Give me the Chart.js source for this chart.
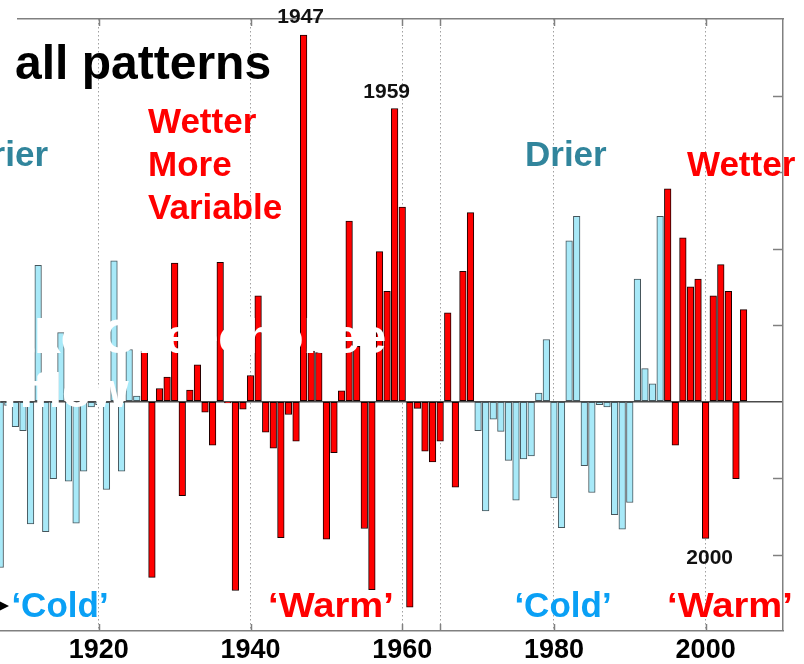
<!DOCTYPE html>
<html>
<head>
<meta charset="utf-8">
<script src="https://cdn.jsdelivr.net/npm/chart.js@4.4.1/dist/chart.umd.min.js"></script>
<style>
  html, body { margin: 0; padding: 0; background: #ffffff; }
  #wrap { width: 804px; height: 664px; position: relative; overflow: hidden; }
</style>
</head>
<body>
<div id="wrap"><canvas id="c" width="804" height="664"></canvas></div>
<script>
// Annual inflow anomaly, one value per year
const years = [
  1907, 1908, 1909, 1910, 1911, 1912, 1913, 1914, 1915, 1916,
  1917, 1918, 1919, 1920, 1921, 1922, 1923, 1924, 1925, 1926,
  1927, 1928, 1929, 1930, 1931, 1932, 1933, 1934, 1935, 1936,
  1937, 1938, 1939, 1940, 1941, 1942, 1943, 1944, 1945, 1946,
  1947, 1948, 1949, 1950, 1951, 1952, 1953, 1954, 1955, 1956,
  1957, 1958, 1959, 1960, 1961, 1962, 1963, 1964, 1965, 1966,
  1967, 1968, 1969, 1970, 1971, 1972, 1973, 1974, 1975, 1976,
  1977, 1978, 1979, 1980, 1981, 1982, 1983, 1984, 1985, 1986,
  1987, 1988, 1989, 1990, 1991, 1992, 1993, 1994, 1995, 1996,
  1997, 1998, 1999, 2000, 2001, 2002, 2003, 2004, 2005
];
const inflow = [
  -2.17, -0.05, -0.33, -0.38, -1.60,  1.78, -1.70, -1.01,  0.90, -1.04,
  -1.59, -0.91, -0.07, -0.04, -1.15,  1.84, -0.91,  0.68,  0.07,  0.66,
  -2.30,  0.17,  0.32,  1.81, -1.23,  0.15,  0.48, -0.14, -0.57,  1.82,
  -0.02, -2.47, -0.10,  0.34,  1.38, -0.40, -0.61, -1.78, -0.17, -0.52,
   4.79,  0.66,  0.64, -1.80, -0.67,  0.14,  2.36,  0.72, -1.66, -2.46,
   1.96,  1.44,  3.83,  2.54, -2.69, -0.09, -0.65, -0.79, -0.52,  1.16,
  -1.12,  1.70,  2.47, -0.38, -1.43, -0.23, -0.39, -0.77, -1.29, -0.75,
  -0.71,  0.11,  0.81, -1.26, -1.65,  2.10,  2.42, -0.84, -1.19, -0.04,
  -0.07, -1.48, -1.67, -1.32,  1.60,  0.43,  0.23,  2.42,  2.78, -0.57,
   2.14,  1.50,  1.60, -1.79,  1.38,  1.79,  1.44, -1.01,  1.20
];
// 'Warm' phase year spans; every other year belongs to a 'Cold' phase
const warmPhases = [[1926, 1969], [1995, 2005]];
const tickYears = [1920, 1940, 1960, 1965, 1980, 2000];
const labelledTickYears = [1920, 1940, 1960, 1980, 2000];
const markedYears = [1947, 1959, 2000];

const FONT = '"Liberation Sans", Arial, Helvetica, sans-serif';
const COLD_FILL = '#a8e9f8';
const COLD_EDGE = '#46565c';
const WARM_FILL = '#ff0000';
const WARM_EDGE = '#1a0000';
const AXIS_GREY = '#808080';

const isWarm = yr => warmPhases.some(([a, b]) => yr >= a && yr <= b);

const points = years.map((yr, i) => ({ x: yr, y: inflow[i] }));

// offsets of the year call-outs relative to their bar ends
const markOffsets = { 1947: { dx: -3, gap: 12 }, 1959: { dx: -8, gap: 11 }, 2000: { dx: 4, gap: 9 } };

const decor = {
  id: 'decor',
  afterDatasetsDraw(chart) {
    const ctx = chart.ctx;
    ctx.save();
    ctx.fillStyle = '#ffffff';
    ctx.font = `bold 48px ${FONT}`;
    ctx.textBaseline = 'alphabetic';
    ctx.textAlign = 'left';
    ctx.fillText('Lake Okeechobee', -22, 353);
    ctx.fillText('Inflow', -10, 407);
    ctx.restore();
  },
  afterDraw(chart) {
    const { ctx, chartArea: a, scales: { x, y } } = chart;
    const seg = (x1, y1, x2, y2) => { ctx.beginPath(); ctx.moveTo(x1, y1); ctx.lineTo(x2, y2); ctx.stroke(); };
    // wide phase name, centred at cx
    const wideText = (txt, cx, by, stretch) => {
      ctx.save();
      ctx.translate(cx, by);
      ctx.scale(stretch, 1);
      ctx.fillText(txt, 0, 0);
      ctx.restore();
    };
    ctx.save();

    // inward tick marks on the frame
    ctx.strokeStyle = AXIS_GREY;
    ctx.lineWidth = 1.5;
    tickYears.forEach(v => {
      const px = Math.round(x.getPixelForValue(v)) + 0.5;
      seg(px, a.top, px, a.top + 7);
      seg(px, a.bottom, px, a.bottom - 7);
    });
    y.ticks.forEach(t => {
      if (t.value === 0 || t.value === y.min || t.value === y.max) return;
      const py = Math.round(y.getPixelForValue(t.value)) + 0.5;
      seg(a.right, py, a.right - 10, py);
    });

    // year call-outs on the extreme bars
    ctx.fillStyle = '#111111';
    ctx.font = `bold 21px ${FONT}`;
    ctx.textAlign = 'center';
    markedYears.forEach(yr => {
      const v = inflow[years.indexOf(yr)];
      const o = markOffsets[yr];
      const px = x.getPixelForValue(yr) + o.dx;
      const py = y.getPixelForValue(v);
      if (v >= 0) { ctx.textBaseline = 'alphabetic'; ctx.fillText(String(yr), px, py - o.gap); }
      else { ctx.textBaseline = 'top'; ctx.fillText(String(yr), px, py + o.gap); }
    });

    // headline
    ctx.textAlign = 'left';
    ctx.textBaseline = 'alphabetic';
    ctx.fillStyle = '#000000';
    ctx.font = `bold 48px ${FONT}`;
    ctx.fillText('all patterns', 15, 79);

    // regime descriptions
    ctx.font = `bold 35px ${FONT}`;
    ctx.fillStyle = '#31859c';
    ctx.textAlign = 'right';
    ctx.fillText('Drier', 48, 166);
    ctx.textAlign = 'left';
    ctx.fillText('Drier', 525, 166);
    ctx.fillStyle = '#ff0000';
    ctx.fillText('Wetter', 148, 133);
    ctx.fillText('More', 148, 176);
    ctx.fillText('Variable', 148, 219);
    ctx.fillText('Wetter', 687, 176);

    // phase names
    ctx.textAlign = 'center';
    ctx.fillStyle = '#0aa0f5';
    ctx.fillText('\u2018Cold\u2019', 60, 617);
    ctx.fillText('\u2018Cold\u2019', 563, 617);
    ctx.fillStyle = '#ff0000';
    wideText('\u2018Warm\u2019', 331, 617, 1.09);
    wideText('\u2018Warm\u2019', 730, 617, 1.09);

    // pointer into the first 'Cold' label
    ctx.strokeStyle = '#000000';
    ctx.lineWidth = 1.5;
    seg(-12, 606, 4, 606);
    ctx.fillStyle = '#000000';
    ctx.beginPath();
    ctx.moveTo(0, 601.5); ctx.lineTo(9, 606); ctx.lineTo(0, 610.5); ctx.closePath(); ctx.fill();

    // the frame's top edge starts just right of the canvas edge
    ctx.fillStyle = '#ffffff';
    ctx.fillRect(0, a.top - 2, 17, 4);

    ctx.restore();
  }
};

new Chart(document.getElementById('c'), {
  type: 'bar',
  data: {
    datasets: [{
      data: points,
      backgroundColor: c => isWarm(c.raw ? c.raw.x : 0) ? WARM_FILL : COLD_FILL,
      borderColor: c => isWarm(c.raw ? c.raw.x : 0) ? WARM_EDGE : COLD_EDGE,
      borderWidth: 1,
      borderSkipped: false,
      barThickness: 6.6
    }]
  },
  options: {
    responsive: false,
    devicePixelRatio: 1,
    animation: false,
    events: [],
    layout: { padding: 0 },
    plugins: { legend: { display: false }, tooltip: { enabled: false } },
    scales: {
      x: {
        type: 'linear',
        position: 'bottom',
        min: 1906.97,
        max: 2010.2,
        offset: false,
        afterBuildTicks: s => { s.ticks = tickYears.map(v => ({ value: v })); },
        afterFit: s => { s.height = 33; },
        ticks: {
          autoSkip: false,
          maxRotation: 0,
          padding: 3,
          color: '#000000',
          font: { family: FONT, size: 27, weight: 'bold' },
          callback: v => labelledTickYears.includes(v) ? String(v) : ''
        },
        grid: { color: '#a0a0a0', lineWidth: 1, drawTicks: false, offset: false },
        border: { display: true, color: AXIS_GREY, width: 1.5, dash: [1.5, 2.5] }
      },
      xTop: {
        type: 'linear',
        position: 'top',
        min: 1906.97,
        max: 2010.2,
        afterFit: s => { s.height = 19; },
        ticks: { display: false },
        grid: { display: false, drawTicks: false },
        border: { display: true, color: AXIS_GREY, width: 1.5 }
      },
      y: {
        position: 'right',
        min: -3,
        max: 5,
        afterFit: s => { s.width = 21; },
        ticks: { display: false, stepSize: 1 },
        grid: {
          drawTicks: false,
          color: c => (c.tick && c.tick.value === 0) ? '#4a4a4a' : 'rgba(0,0,0,0)',
          lineWidth: c => (c.tick && c.tick.value === 0) ? 1.5 : 0
        },
        border: { display: true, color: AXIS_GREY, width: 1.5 }
      }
    }
  },
  plugins: [decor]
});
</script>
</body>
</html>
